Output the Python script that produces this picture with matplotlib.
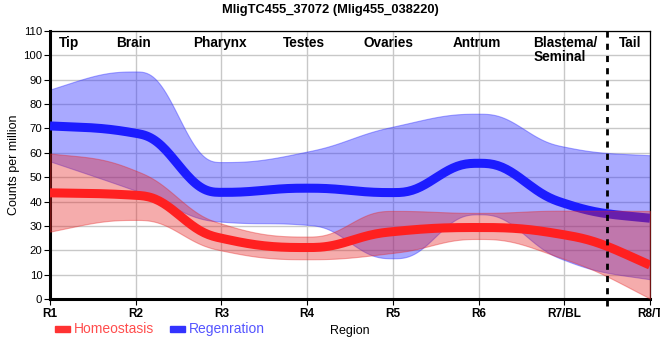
import matplotlib
matplotlib.use('agg')
import matplotlib.pyplot as plt
from matplotlib.patches import Rectangle
import numpy as np

# values, one per region
regions = ["R1", "R2", "R3", "R4", "R5", "R6", "R7/BL", "R8/T"]
homeo_mean = [43.6, 42.6, 25.0, 21.2, 27.7, 29.4, 26.4, 14.0]
homeo_upper = [59.7, 52.7, 31.0, 25.7, 36.2, 35.4, 36.3, 36.2]
homeo_lower = [27.7, 32.5, 20.0, 16.4, 19.0, 24.7, 16.5, 0.3]
regen_mean = [71.0, 68.0, 43.8, 45.5, 43.7, 55.7, 39.3, 33.2]
regen_upper = [85.9, 93.3, 56.2, 60.5, 70.7, 76.0, 62.5, 59.0]
regen_lower = [56.5, 44.5, 31.8, 30.5, 16.8, 34.8, 16.1, 8.2]

region_names = ["Tip", "Brain", "Pharynx", "Testes", "Ovaries", "Antrum", "Blastema/\nSeminal", "Tail"]
region_pos = [1.22, 1.97, 2.98, 3.96, 4.95, 5.98, 6.64, 7.77]

plt.rcParams['font.family'] = ['Liberation Sans', 'DejaVu Sans']


def smooth(x, y, n=40):
    # hermite curve with monotone tangents (d3 monotoneX rule), quintic blend
    x = np.asarray(x, float)
    y = np.asarray(y, float)
    h = np.diff(x)
    s = np.diff(y) / h
    t = np.zeros(len(x))
    for i in range(1, len(x) - 1):
        p = (s[i - 1] * h[i] + s[i] * h[i - 1]) / (h[i - 1] + h[i])
        t[i] = (np.sign(s[i - 1]) + np.sign(s[i])) * min(abs(s[i - 1]), abs(s[i]), 0.5 * abs(p))
    t[0] = (3 * s[0] - t[1]) / 2
    t[-1] = (3 * s[-1] - t[-2]) / 2
    xs, ys = [], []
    for i in range(len(x) - 1):
        u = np.linspace(0, 1, n, endpoint=False)
        b0 = 1 - 10 * u**3 + 15 * u**4 - 6 * u**5
        b1 = u - 6 * u**3 + 8 * u**4 - 3 * u**5
        b2 = 10 * u**3 - 15 * u**4 + 6 * u**5
        b3 = -4 * u**3 + 7 * u**4 - 3 * u**5
        xs.append(x[i] + u * h[i])
        ys.append(b0 * y[i] + b1 * h[i] * t[i] + b2 * y[i + 1] + b3 * h[i] * t[i + 1])
    xs.append([x[-1]])
    ys.append([y[-1]])
    return np.concatenate(xs), np.concatenate(ys)


xpos = np.arange(1, len(regions) + 1)

fig = plt.figure(figsize=(6.6, 3.6), dpi=100)
ax = fig.add_axes([50 / 660, 1 - 299.3 / 360, 600 / 660, 268.6 / 360])

bx, bu = smooth(xpos, regen_upper)
_, bl = smooth(xpos, regen_lower)
_, bm = smooth(xpos, regen_mean)
rx, ru = smooth(xpos, homeo_upper)
_, rl = smooth(xpos, homeo_lower)
_, rm = smooth(xpos, homeo_mean)

ax.fill_between(bx, bl, bu, color=(0.2, 0.2, 1.0), alpha=0.42, lw=0.8, zorder=2)
ax.plot(bx, bm, color='#1c1cff', lw=6.5, solid_capstyle='butt', zorder=3)
ax.fill_between(rx, rl, ru, color=(0.9, 0.15, 0.15), alpha=0.38, lw=0.8, zorder=4)
ax.plot(rx, rm, color='#ff2020', lw=6.5, solid_capstyle='butt', zorder=5)

ax.axvline(7.5, ymin=-0.025, ymax=1, color='black', lw=2, ls=(0, (2.2, 2.2)), clip_on=False, zorder=6)

ax.set_xlim(1, 8)
ax.set_ylim(0, 110)
ax.set_xticks(xpos)
ax.set_xticklabels(regions, fontsize=8.5, fontweight='bold')
ax.set_yticks(np.arange(0, 111, 10))
ax.tick_params(axis='y', labelsize=8.2, length=4, pad=1.5)
ax.tick_params(axis='x', length=4, pad=2)
ax.grid(True, color='#c8c8c8', lw=1, zorder=0)
ax.set_axisbelow(True)

ax.spines['left'].set_linewidth(2.2)
ax.spines['bottom'].set_linewidth(2.2)
ax.spines['top'].set_linewidth(0.9)
ax.spines['right'].set_linewidth(0.9)

for name, p in zip(region_names, region_pos):
    ha = 'left' if '/' in name else 'center'
    ax.text(p, 108, name, ha=ha, va='top', fontsize=9.8, fontweight='bold', linespacing=1.05, zorder=7)

ax.set_ylabel("Counts per million", fontsize=9, labelpad=2)
fig.text(350 / 660, 1 - 331 / 360, "Region", ha='center', va='center', fontsize=9)
fig.text(330 / 660, 1 - 10 / 360, "MligTC455_37072 (Mlig455_038220)", ha='center', va='center',
         fontsize=9.3, fontweight='bold')

# legend drawn by hand under the axis
fig.patches.append(Rectangle((55 / 660, 1 - 332 / 360), 15 / 660, 6 / 360, color='#ff3333',
                             transform=fig.transFigure))
fig.text(74 / 660, 1 - 329 / 360, "Homeostasis", ha='left', va='center', fontsize=10, color='#ff4d4d')
fig.patches.append(Rectangle((170 / 660, 1 - 332 / 360), 15 / 660, 6 / 360, color='#3333ff',
                             transform=fig.transFigure))
fig.text(189 / 660, 1 - 329 / 360, "Regenration", ha='left', va='center', fontsize=10, color='#5555ff')

fig.savefig("out.png", dpi=100)
